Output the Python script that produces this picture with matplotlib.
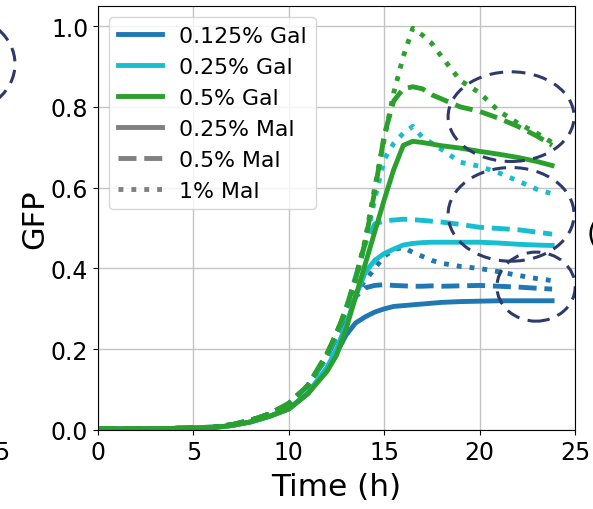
import numpy as np
from matplotlib import pyplot as plt
from matplotlib.patches import Ellipse
from matplotlib.lines import Line2D

# время (ч)
t = [0, 2, 4, 6, 7, 8, 9, 10, 11, 12, 12.5, 13, 13.5, 14, 14.5, 15, 15.5, 16,
     16.5, 17, 17.5, 18, 19, 20, 21, 22, 23, 23.8]

# 0.125% Gal
gal0125_mal025 = [0.003, 0.003, 0.004, 0.006, 0.011, 0.02, 0.034, 0.052, 0.09, 0.15, 0.19, 0.235, 0.265, 0.28,
                  0.292, 0.30, 0.306, 0.308, 0.31, 0.312, 0.314, 0.316, 0.318, 0.319, 0.32, 0.32, 0.32, 0.32]
gal0125_mal05 = [0.003, 0.003, 0.004, 0.007, 0.013, 0.024, 0.04, 0.065, 0.11, 0.18, 0.23, 0.28, 0.33, 0.352,
                 0.358, 0.36, 0.358, 0.357, 0.356, 0.356, 0.357, 0.356, 0.357, 0.358, 0.356, 0.354, 0.351, 0.349]
gal0125_mal1 = [0.003, 0.003, 0.004, 0.007, 0.013, 0.024, 0.04, 0.065, 0.11, 0.18, 0.23, 0.29, 0.34, 0.37,
                0.40, 0.43, 0.447, 0.452, 0.44, 0.43, 0.42, 0.413, 0.405, 0.40, 0.392, 0.383, 0.375, 0.37]
# 0.25% Gal
gal025_mal025 = [0.003, 0.003, 0.004, 0.006, 0.011, 0.02, 0.034, 0.053, 0.092, 0.155, 0.20, 0.26, 0.33, 0.39,
                 0.42, 0.437, 0.448, 0.458, 0.462, 0.464, 0.465, 0.465, 0.465, 0.465, 0.463, 0.46, 0.458, 0.457]
gal025_mal05 = [0.003, 0.003, 0.004, 0.007, 0.013, 0.024, 0.04, 0.066, 0.11, 0.185, 0.235, 0.30, 0.38, 0.46,
                0.51, 0.518, 0.52, 0.522, 0.521, 0.519, 0.517, 0.515, 0.509, 0.502, 0.499, 0.496, 0.49, 0.485]
gal025_mal1 = [0.003, 0.003, 0.004, 0.007, 0.013, 0.024, 0.04, 0.065, 0.11, 0.18, 0.235, 0.29, 0.37, 0.46,
               0.57, 0.67, 0.71, 0.735, 0.752, 0.725, 0.71, 0.695, 0.663, 0.653, 0.637, 0.617, 0.596, 0.585]
# 0.5% Gal
gal05_mal025 = [0.003, 0.003, 0.004, 0.006, 0.011, 0.02, 0.034, 0.052, 0.09, 0.145, 0.185, 0.25, 0.33, 0.41,
                0.49, 0.57, 0.645, 0.705, 0.715, 0.712, 0.708, 0.704, 0.698, 0.69, 0.683, 0.675, 0.665, 0.655]
gal05_mal05 = [0.003, 0.003, 0.004, 0.007, 0.013, 0.024, 0.04, 0.066, 0.11, 0.19, 0.24, 0.30, 0.373, 0.465,
               0.59, 0.73, 0.815, 0.845, 0.85, 0.845, 0.83, 0.82, 0.80, 0.789, 0.772, 0.752, 0.728, 0.705]
gal05_mal1 = [0.003, 0.003, 0.004, 0.007, 0.013, 0.024, 0.04, 0.066, 0.11, 0.185, 0.24, 0.30, 0.375, 0.47,
              0.60, 0.72, 0.835, 0.925, 0.995, 0.978, 0.957, 0.925, 0.865, 0.835, 0.79, 0.76, 0.735, 0.712]

gal_labels = ["0.125% Gal", "0.25% Gal", "0.5% Gal"]
mal_labels = ["0.25% Mal", "0.5% Mal", "1% Mal"]
colors = ["#1f77b4", "#17becf", "#2ca02c"]
styles = ["-", "--", ":"]
curves = [[gal0125_mal025, gal0125_mal05, gal0125_mal1],
          [gal025_mal025, gal025_mal05, gal025_mal1],
          [gal05_mal025, gal05_mal05, gal05_mal1]]

fig = plt.figure(figsize=(5.93, 5.10), dpi=100)
ax = fig.add_axes([98 / 593, 1 - 431 / 510, 477 / 593, 424 / 510])

for i in range(3):
    for j in range(3):
        ax.plot(t, curves[i][j], color=colors[i], linestyle=styles[j], linewidth=3.5)

ax.set_xlim(0, 25)
ax.set_ylim(0, 1.05)
ax.set_xticks([0, 5, 10, 15, 20, 25])
ax.set_yticks([0.0, 0.2, 0.4, 0.6, 0.8, 1.0])
ax.tick_params(labelsize=17)
ax.grid(True, color="#c4c4c4", linewidth=1.0)
ax.set_axisbelow(True)
ax.set_xlabel("Time (h)", fontsize=22.5, labelpad=6)
ax.set_ylabel("GFP", fontsize=22, labelpad=1)

# легенда: цвет - галактоза, стиль - мальтоза
handles = [Line2D([], [], color=c, linewidth=3.5) for c in colors]
handles += [Line2D([], [], color="#808080", linestyle=s, linewidth=3.5) for s in styles]
ax.legend(handles, gal_labels + mal_labels, loc="upper left", fontsize=15.8)

# пунктирные овалы
navy = "#2e3a6c"
for (cx, cy, w, h) in [(21.65, 0.776, 6.6, 0.222), (21.65, 0.534, 6.6, 0.232), (22.96, 0.355, 4.1, 0.171)]:
    ax.add_patch(Ellipse((cx, cy), w, h, fill=False, edgecolor=navy, linewidth=2.2,
                         linestyle=(0, (4.5, 2.8)), zorder=5))

# обрезки соседних панелей
fig.add_artist(Ellipse((-45 / 593, 1 - 65 / 510), 120 / 593, 100 / 510, fill=False,
                       edgecolor=navy, linewidth=2.2, linestyle=(0, (4.5, 2.8)),
                       transform=fig.transFigure))
fig.text(11 / 593, 1 - 460 / 510, "25", fontsize=17, ha="right", va="baseline")
fig.text(587 / 593, 1 - 235 / 510, "(", fontsize=20, ha="left", va="center")

fig.savefig("out.png", dpi=100)
